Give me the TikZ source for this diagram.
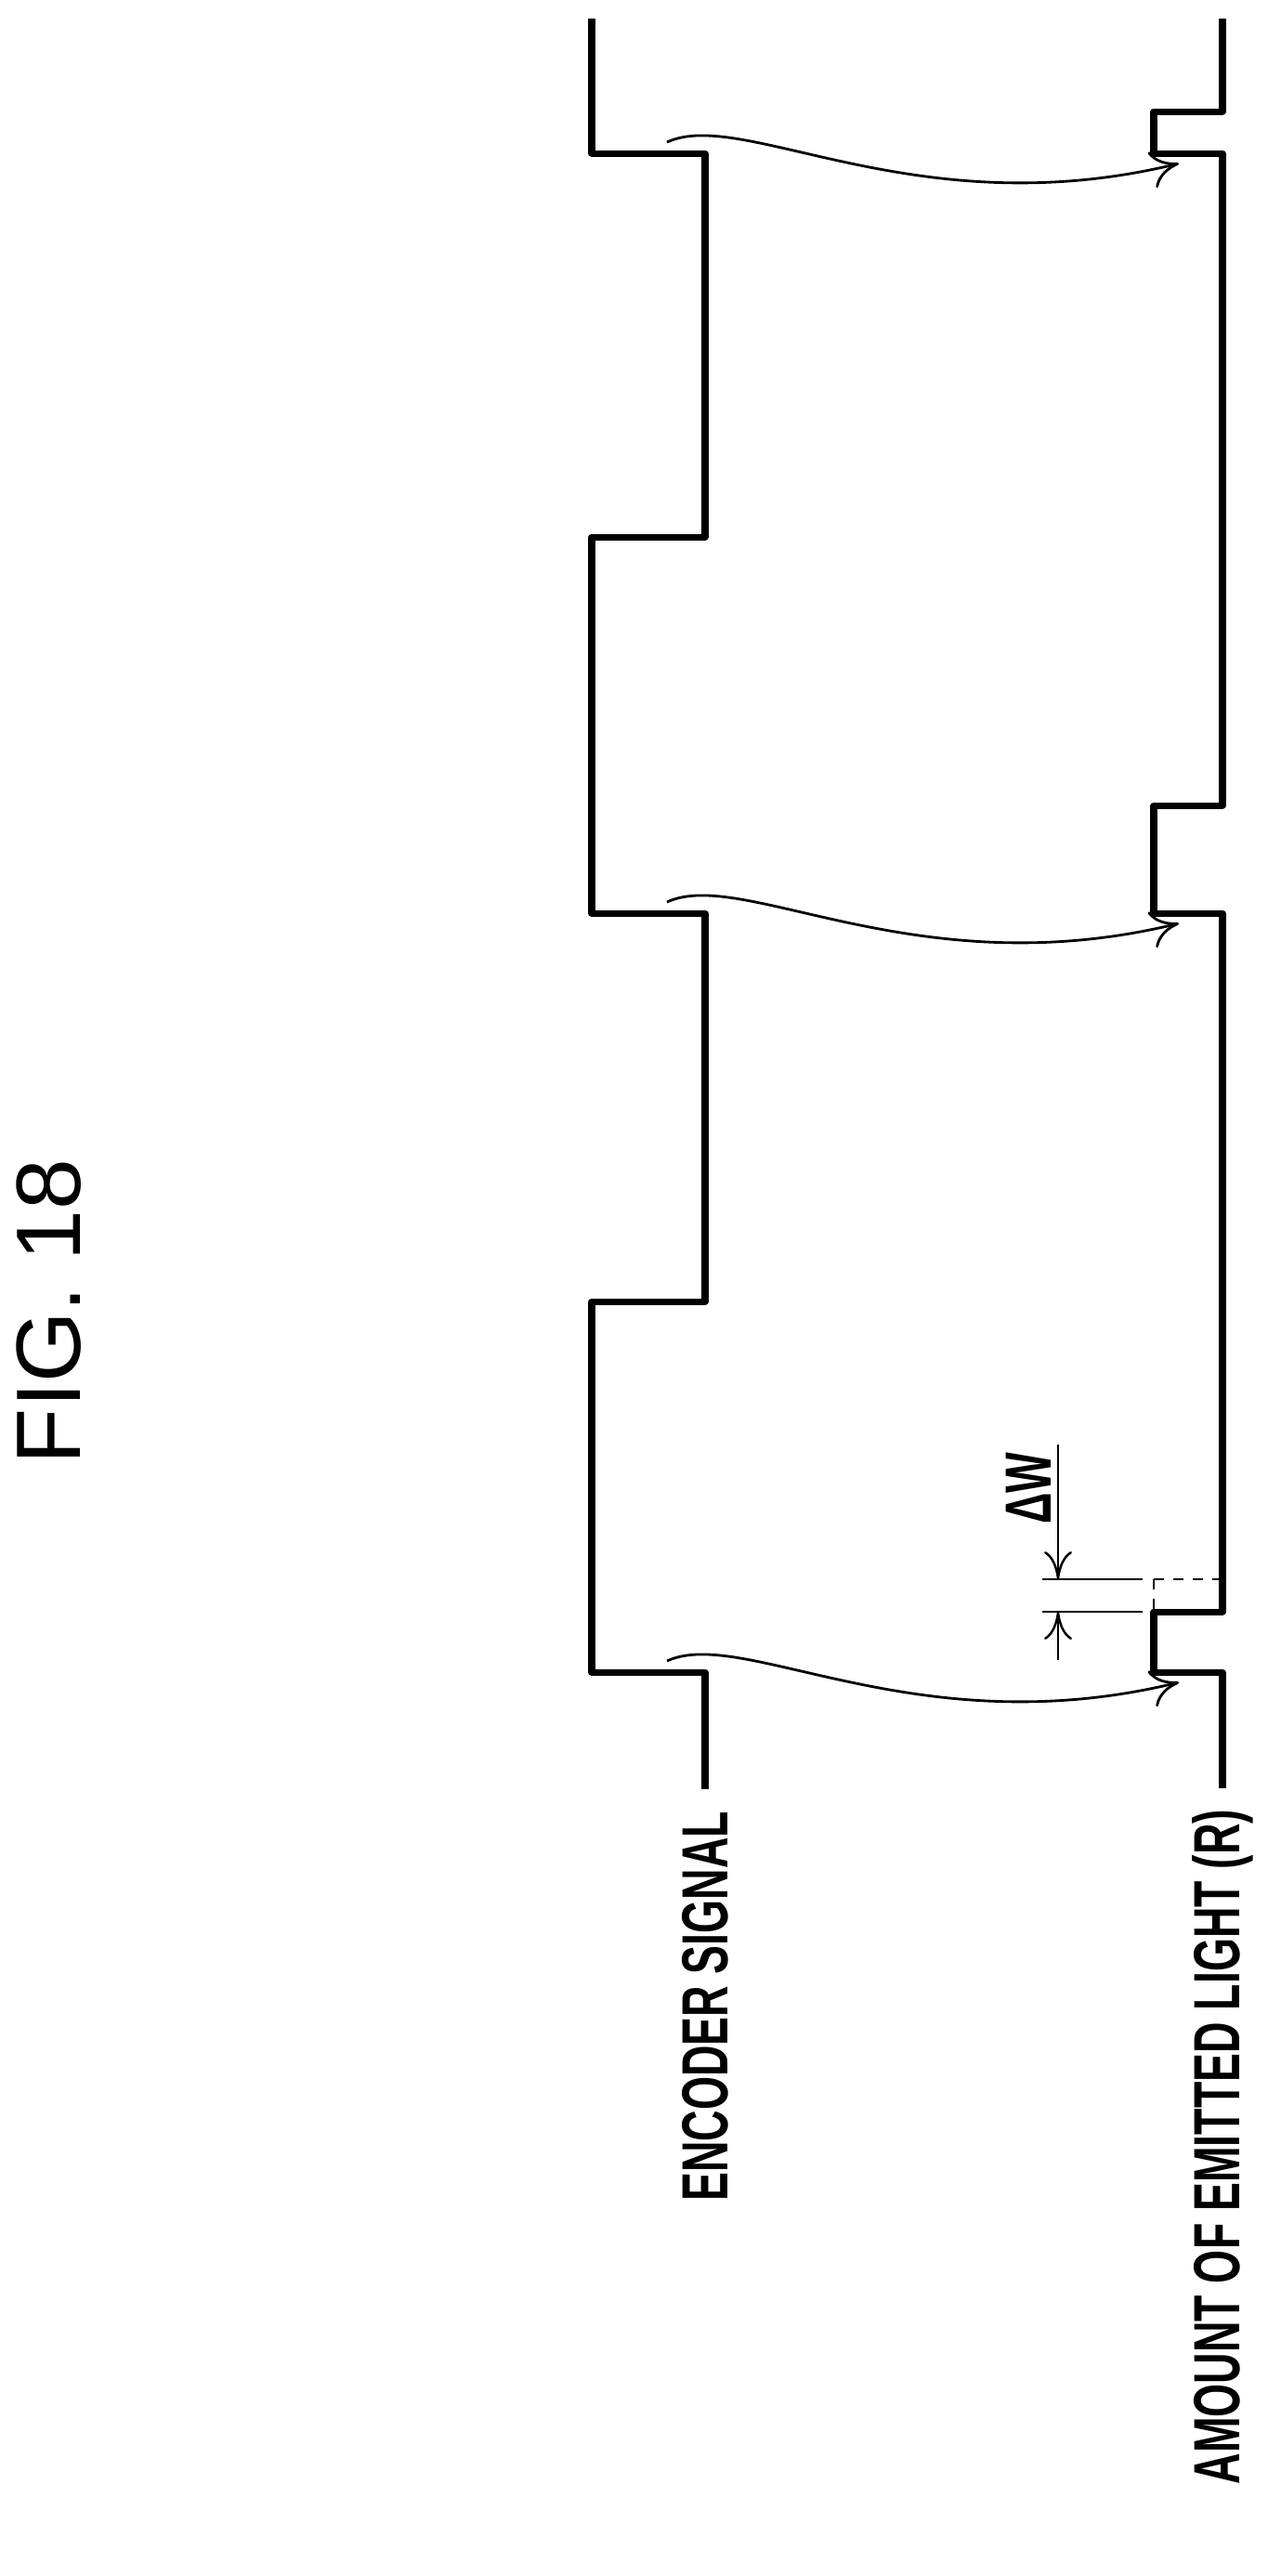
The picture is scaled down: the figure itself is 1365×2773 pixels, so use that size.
\documentclass[tikz,border=0pt]{standalone}
\usepackage{fontspec}
\setmainfont{Liberation Sans}
\newfontfamily\condensed{Liberation Sans}[FakeStretch=0.66]
\usetikzlibrary{arrows.meta}
\tikzset{SignalStyle/.style = {
			line width     = 2pt,
			line join      = round}
			}
\tikzset{FlowStyle/.style   = {line width=0.8pt,-{To[length=3mm,width=4mm]}}}
\tikzset{DimStyle/.style    = {line width=0.7pt}}
\tikzset{LabelStyle/.style  = {
			font           = \condensed\bfseries\fontsize{20}{20}\selectfont,
			rotate         = 90,
			inner sep      = 0pt}
			}

\begin{document}
\begin{tikzpicture}[x=0.1mm,y=-0.1mm]
	\useasboundingbox (0,0) rectangle (1365,2773);
	\node[font=\fontsize{28}{28}\selectfont,rotate=90] (fig) at (53,1412) {FIG. 18};

	% encoder signal
	\draw[SignalStyle] (759,1926) -- (759,1800) -- (637,1800) -- (637,1401) -- (759,1401) -- (759,983)
		-- (637,983) -- (637,578) -- (759,578) -- (759,165) -- (637,165) -- (637,20);
	% emitted light
	\draw[SignalStyle] (1316,1925) -- (1316,1800) -- (1242,1800) -- (1242,1735) -- (1316,1735) -- (1316,983)
		-- (1242,983) -- (1242,867) -- (1316,867) -- (1316,165) -- (1242,165) -- (1242,120) -- (1316,120) -- (1316,20);

	\node[LabelStyle,anchor=east] (enc) at (759,1949) {ENCODER SIGNAL};
	\node[LabelStyle,anchor=east] (light) at (1316,1947) {AMOUNT OF EMITTED LIGHT (R)};

	\foreach \e/\n in {165/a,983/b,1800/c}{
		\coordinate (s\n) at (718,\e-12);
		\coordinate (t\n) at (1269,\e+11);
		\draw[FlowStyle] (s\n) .. controls (800,\e-50) and (985,\e+80) .. (t\n);
	}

	% delta w
	\draw[DimStyle] (1122,1700) -- (1230,1700);
	\draw[DimStyle] (1122,1735) -- (1230,1735);
	\draw[DimStyle,dashed] (1242,1700) -- (1316,1700);
	\draw[DimStyle,dashed] (1242,1700) -- (1242,1735);
	\coordinate (dwtop) at (1139,1555);
	\coordinate (dwbot) at (1139,1787);
	\draw[DimStyle,-{To[length=3mm,width=3mm]}] (dwtop) -- (1139,1700);
	\draw[DimStyle,-{To[length=3mm,width=3mm]}] (dwbot) -- (1139,1735);
	\node[LabelStyle] (dw) at (1107,1602) {ΔW};
\end{tikzpicture}
\end{document}
